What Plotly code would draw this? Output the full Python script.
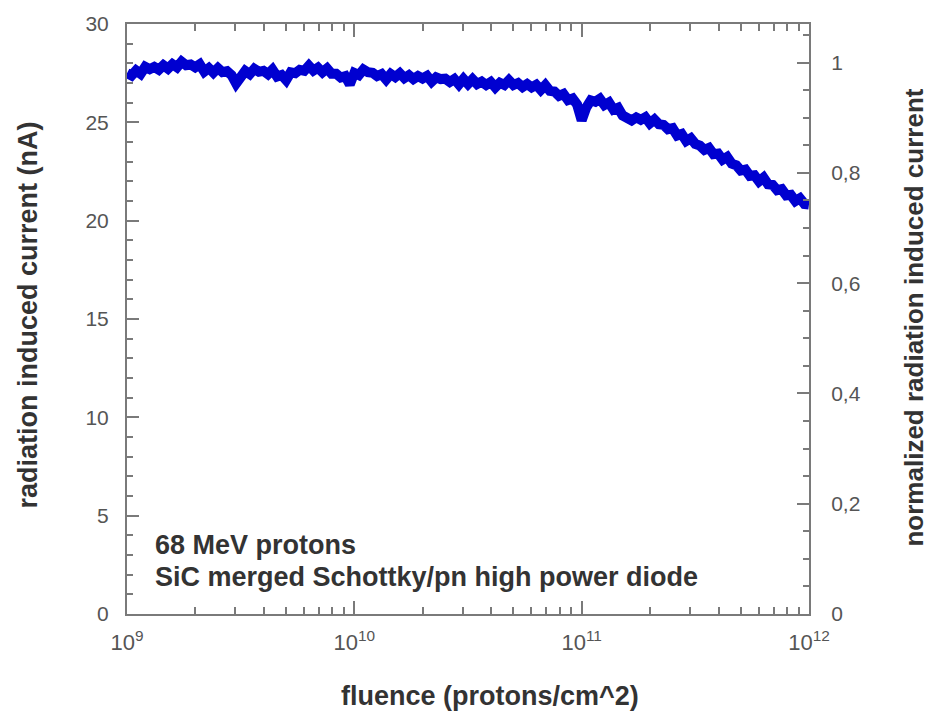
import plotly.graph_objects as go

# ---- data ----
log_fluence = [
    9.00, 9.02, 9.04, 9.06, 9.08, 9.10, 9.12, 9.14, 9.16, 9.18,
    9.20, 9.22, 9.24, 9.26, 9.28, 9.30, 9.32, 9.34, 9.36, 9.38,
    9.40, 9.42, 9.44, 9.46, 9.48, 9.50, 9.52, 9.54, 9.56, 9.58,
    9.60, 9.62, 9.64, 9.66, 9.68, 9.70, 9.72, 9.74, 9.76, 9.78,
    9.80, 9.82, 9.84, 9.86, 9.88, 9.90, 9.92, 9.94, 9.96, 9.98,
    10.00, 10.02, 10.04, 10.06, 10.08, 10.10, 10.12, 10.14, 10.16, 10.18,
    10.20, 10.22, 10.24, 10.26, 10.28, 10.30, 10.32, 10.34, 10.36, 10.38,
    10.40, 10.42, 10.44, 10.46, 10.48, 10.50, 10.52, 10.54, 10.56, 10.58,
    10.60, 10.62, 10.64, 10.66, 10.68, 10.70, 10.72, 10.74, 10.76, 10.78,
    10.80, 10.82, 10.84, 10.86, 10.88, 10.90, 10.92, 10.94, 10.96, 10.98,
    11.00, 11.02, 11.04, 11.06, 11.08, 11.10, 11.12, 11.14, 11.16, 11.18,
    11.20, 11.22, 11.24, 11.26, 11.28, 11.30, 11.32, 11.34, 11.36, 11.38,
    11.40, 11.42, 11.44, 11.46, 11.48, 11.50, 11.52, 11.54, 11.56, 11.58,
    11.60, 11.62, 11.64, 11.66, 11.68, 11.70, 11.72, 11.74, 11.76, 11.78,
    11.80, 11.82, 11.84, 11.86, 11.88, 11.90, 11.92, 11.94, 11.96, 11.98,
    12.00,
]
current_nA = [
    27.50, 27.38, 27.64, 27.47, 27.82, 27.70, 27.82, 27.68, 27.90, 27.73,
    27.96, 27.80, 28.08, 27.90, 27.94, 27.80, 27.95, 27.58, 27.76, 27.53,
    27.76, 27.55, 27.60, 27.40, 26.98, 27.33, 27.61, 27.45, 27.72, 27.57,
    27.62, 27.45, 27.68, 27.33, 27.41, 27.15, 27.54, 27.50, 27.67, 27.62,
    27.88, 27.63, 27.78, 27.55, 27.74, 27.47, 27.47, 27.28, 27.35, 26.93,
    27.51, 27.40, 27.69, 27.55, 27.52, 27.35, 27.45, 27.18, 27.46, 27.30,
    27.49, 27.25, 27.40, 27.20, 27.35, 27.23, 27.36, 27.07, 27.29, 27.20,
    27.22, 27.05, 27.20, 26.93, 27.21, 26.95, 27.19, 26.95, 27.07, 26.90,
    27.05, 26.78, 27.01, 26.90, 27.14, 26.90, 27.00, 26.80, 26.95, 26.78,
    26.91, 26.65, 26.89, 26.60, 26.57, 26.35, 26.45, 26.13, 26.21, 25.90,
    25.10, 25.75, 26.12, 26.05, 26.20, 25.88, 26.01, 25.65, 25.74, 25.35,
    25.27, 25.10, 25.25, 25.13, 25.26, 24.95, 25.14, 24.90, 24.87, 24.65,
    24.70, 24.33, 24.41, 24.05, 24.19, 23.90, 23.82, 23.60, 23.70, 23.38,
    23.41, 23.10, 23.24, 22.90, 22.82, 22.55, 22.60, 22.28, 22.31, 22.00,
    22.19, 21.85, 21.82, 21.55, 21.60, 21.28, 21.31, 21.00, 21.14, 20.85,
    20.82,
]
fluence = [10 ** e for e in log_fluence]

x_tick_vals = [1e9, 1e10, 1e11, 1e12]
x_tick_text = ["10<sup>9</sup>", "10<sup>10</sup>", "10<sup>11</sup>", "10<sup>12</sup>"]
x_minor_vals = [m * 10 ** d for d in (9, 10, 11) for m in range(2, 10)]
y_tick_vals = [0, 5, 10, 15, 20, 25, 30]
y2_tick_vals = [0, 0.2, 0.4, 0.6, 0.8, 1.0]
y2_tick_text = ["0", "0,2", "0,4", "0,6", "0,8", "1"]

# ---- layout geometry ----
W, H = 932, 716
L, R, T, B = 127, 809, 21, 614


def px(xp):
    return (xp - L) / (R - L)


def py(yp):
    return (B - yp) / (B - T)


FONT = "Liberation Sans, Arial, sans-serif"
FRAME = "#7a7a7a"
TICKFONT = "#555555"
TITLE = "#333333"

fig = go.Figure()
fig.add_trace(go.Scatter(
    x=fluence, y=current_nA, mode="lines",
    line=dict(color="#0000d0", width=10),
    showlegend=False, hoverinfo="skip",
))
# invisible trace to activate the right axis
fig.add_trace(go.Scatter(x=[1e9], y=[0], yaxis="y2", mode="markers",
                         marker=dict(opacity=0), showlegend=False, hoverinfo="skip"))

fig.update_layout(
    width=W, height=H,
    margin=dict(l=L, r=W - R, t=T, b=H - B, pad=0),
    paper_bgcolor="white", plot_bgcolor="white",
    font=dict(family=FONT),
    xaxis=dict(
        type="log", range=[9, 12],
        tickvals=x_tick_vals, ticktext=x_tick_text,
        ticks="inside", ticklen=13, tickwidth=1.5, tickcolor=FRAME,
        showline=True, linecolor=FRAME, linewidth=2, mirror="ticks",
        showgrid=False, zeroline=False,
        tickfont=dict(size=22, color=TICKFONT, family=FONT),
        ticklabelstandoff=8,
        minor=dict(tickvals=x_minor_vals, ticks="inside", ticklen=7,
                   tickwidth=1.5, tickcolor=FRAME, showgrid=False),
    ),
    yaxis=dict(
        range=[0, 30], tickvals=y_tick_vals,
        ticks="inside", ticklen=12, tickwidth=1.5, tickcolor=FRAME,
        showline=True, linecolor=FRAME, linewidth=2,
        showgrid=False, zeroline=False,
        tickfont=dict(size=21, color=TICKFONT, family=FONT),
        ticklabelstandoff=12,
        minor=dict(dtick=1, tick0=0, ticks="inside", ticklen=6,
                   tickwidth=1.5, tickcolor=FRAME, showgrid=False),
    ),
    yaxis2=dict(
        overlaying="y", side="right", range=[0, 1.07],
        tickvals=y2_tick_vals, ticktext=y2_tick_text,
        ticks="inside", ticklen=12, tickwidth=1.5, tickcolor=FRAME,
        showline=True, linecolor=FRAME, linewidth=2,
        showgrid=False, zeroline=False,
        tickfont=dict(size=21, color=TICKFONT, family=FONT),
        ticklabelstandoff=16,
        minor=dict(dtick=0.05, tick0=0, ticks="inside", ticklen=6,
                   tickwidth=1.5, tickcolor=FRAME, showgrid=False),
    ),
)

tfont = dict(family=FONT, size=27, color=TITLE, weight="bold")
fig.add_annotation(text="radiation induced current (nA)", xref="paper", yref="paper",
                   x=px(28), y=py(314), textangle=-90, showarrow=False,
                   xanchor="center", yanchor="middle", font=tfont)
fig.add_annotation(text="normalized radiation induced current", xref="paper", yref="paper",
                   x=px(914), y=py(316), textangle=-90, showarrow=False,
                   xanchor="center", yanchor="middle",
                   font=dict(family=FONT, size=26, color=TITLE, weight="bold"))
fig.add_annotation(text="fluence (protons/cm^2)", xref="paper", yref="paper",
                   x=px(490), y=py(696), showarrow=False,
                   xanchor="center", yanchor="middle", font=tfont)
fig.add_annotation(text="68 MeV protons", xref="paper", yref="paper",
                   x=px(153), y=py(545), showarrow=False,
                   xanchor="left", yanchor="middle", font=tfont)
fig.add_annotation(text="SiC merged Schottky/pn high power diode", xref="paper", yref="paper",
                   x=px(153), y=py(577), showarrow=False,
                   xanchor="left", yanchor="middle", font=tfont)

fig.write_html(
    "out.html",
    config={"displayModeBar": False},
    post_script="document.body.style.margin='0';document.body.style.overflow='hidden';",
)
